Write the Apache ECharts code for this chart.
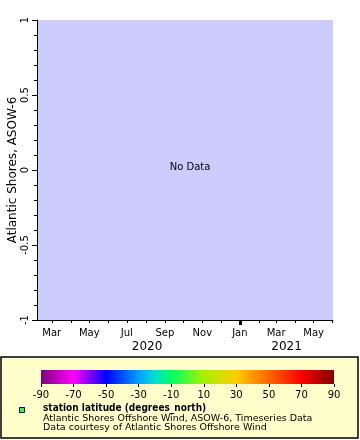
<!DOCTYPE html>
<html>
<head>
<meta charset="utf-8">
<script src="https://cdn.jsdelivr.net/npm/echarts@6/dist/echarts.min.js"></script>
<style>
html,body{margin:0;padding:0;background:#fff;}
#chart{width:360px;height:440px;}
</style>
</head>
<body>
<div id="chart"></div>
<script>
// ---- data ----
const timeMin = '2020-02-06';
const timeMax = '2021-06-01T12:00:00';
const monthTicks = ['2020-03-01','2020-04-01','2020-05-01','2020-06-01','2020-07-01','2020-08-01','2020-09-01','2020-10-01','2020-11-01','2020-12-01','2021-01-01','2021-02-01','2021-03-01','2021-04-01','2021-05-01','2021-06-01'];
const labeledMonths = ['2020-03-01','2020-05-01','2020-07-01','2020-09-01','2020-11-01','2021-01-01','2021-03-01','2021-05-01'];
const monthNames = ['Jan','Feb','Mar','Apr','May','Jun','Jul','Aug','Sep','Oct','Nov','Dec'];
const yearBoundary = ['2021-01-01'];
const yearLabelDates = ['2020-08-03','2021-03-18'];
const yearLabelTexts = ['2020','2021'];
const yTicks = [-1,-0.5,0,0.5,1];
const yTickLabels = ['-1','-0.5','0','0.5','1'];
const colorTicks = [-90,-70,-50,-30,-10,10,30,50,70,90];
const paletteValues = [-90,-70,-50,-30,-20,-10,10,30,50,70,90];
const paletteColors = ['#800080','#ff00ff','#0000ff','#00a0ff','#00e0d0','#00ff60','#a8f000','#ffcc00','#ff6600','#ff0000','#800000'];
const stationSeries = []; // no data
const yTitle = 'Atlantic Shores, ASOW-6';
const legendLines = ['station latitude (degrees_north)','Atlantic Shores Offshore Wind, ASOW-6, Timeseries Data','Data courtesy of Atlantic Shores Offshore Wind'];

const ts = s => new Date(s + (s.length===10 ? 'T00:00:00Z' : 'Z')).getTime();
const FONT = 'DejaVu Sans';

const chart = echarts.init(document.getElementById('chart'), null, {renderer:'canvas'});
const stops = paletteValues.map((v,i)=>({offset:(v-paletteValues[0])/(paletteValues[paletteValues.length-1]-paletteValues[0]), color:paletteColors[i]}));

const baseTime = {
  type:'value', gridIndex:0, min:ts(timeMin), max:ts(timeMax), scale:true,
  splitLine:{show:false}
};

chart.setOption({
  animation:false,
  graphic:[
    {type:'rect', z:-100, shape:{x:1,y:357,width:357,height:81}, style:{fill:'#ffffcc',stroke:'#000',lineWidth:1.5}},
    {type:'rect', z:10, shape:{x:19.5,y:407.5,width:5,height:5}, style:{fill:'#33ff33',stroke:'#000',lineWidth:1}},
    {type:'text', z:10, x:43, y:403.5, style:{text:legendLines[0], font:'bold 10px "DejaVu Sans Condensed"', fill:'#000'}},
    {type:'text', z:10, x:43, y:414, style:{text:legendLines[1], font:'9.5px "DejaVu Sans"', fill:'#000'}},
    {type:'text', z:10, x:43, y:423, style:{text:legendLines[2], font:'9.5px "DejaVu Sans"', fill:'#000'}},
    {type:'text', z:10, x:190, y:167, style:{text:'No Data', font:'10px "DejaVu Sans"', fill:'#000', align:'center', verticalAlign:'middle'}}
  ],
  grid:[
    {left:37, right:27, top:20, bottom:120, show:true, backgroundColor:'#ccccff', borderWidth:0, containLabel:false, outerBoundsMode:'none'},
    {left:41, width:293, top:370, height:14, show:false, containLabel:false, outerBoundsMode:'none'}
  ],
  xAxis:[
    Object.assign({}, baseTime, {
      position:'bottom',
      axisLine:{show:true, onZero:false, lineStyle:{color:'#000', width:1}},
      axisTick:{show:true, length:3, lineStyle:{color:'#000'}, customValues:monthTicks.map(ts)},
      axisLabel:{show:true, margin:8, color:'#000', fontFamily:FONT, fontSize:10, customValues:labeledMonths.map(ts),
        formatter:v=>monthNames[new Date(v).getUTCMonth()]}
    }),
    Object.assign({}, baseTime, {
      position:'bottom',
      axisLine:{show:false, onZero:false},
      axisTick:{show:true, length:5, lineStyle:{color:'#000', width:3}, customValues:yearBoundary.map(ts)},
      axisLabel:{show:true, margin:21, color:'#000', fontFamily:FONT, fontSize:12, customValues:yearLabelDates.map(ts),
        formatter:v=>{const i=yearLabelDates.map(ts).indexOf(v); return i>=0?yearLabelTexts[i]:'';}}
    }),
    {type:'value', gridIndex:1, min:colorTicks[0], max:colorTicks[colorTicks.length-1], position:'bottom',
      axisLine:{show:false}, splitLine:{show:false},
      axisTick:{show:true, length:3, lineStyle:{color:'#000'}, customValues:colorTicks},
      axisLabel:{show:true, margin:6, color:'#000', fontFamily:FONT, fontSize:10, customValues:colorTicks, formatter:v=>String(v)}
    }
  ],
  yAxis:[
    {type:'value', gridIndex:0, min:-1, max:1, interval:0.5,
      name:yTitle, nameLocation:'middle', nameGap:18, nameRotate:90, nameMoveOverlap:false,
      nameTextStyle:{color:'#000', fontFamily:FONT, fontSize:12},
      axisLine:{show:true, onZero:false, lineStyle:{color:'#000'}},
      axisTick:{show:true, length:5, lineStyle:{color:'#000'}},
      minorTick:{show:true, splitNumber:5, length:3, lineStyle:{color:'#000'}},
      splitLine:{show:false}, minorSplitLine:{show:false},
      axisLabel:{show:true, rotate:90, margin:7, color:'#000', fontFamily:FONT, fontSize:10,
        formatter:v=>{const i=yTicks.indexOf(v); return i>=0?yTickLabels[i]:String(v);}}
    },
    {type:'value', gridIndex:1, min:0, max:1, show:false}
  ],
  series:[
    {type:'line', xAxisIndex:0, yAxisIndex:0, data:stationSeries, showSymbol:false},
    {type:'custom', xAxisIndex:2, yAxisIndex:1, data:[[colorTicks[0], colorTicks[colorTicks.length-1]]],
      renderItem:(params, api)=>{
        const p0 = api.coord([api.value(0), 0]);
        const p1 = api.coord([api.value(1), 1]);
        return {type:'rect', shape:{x:p0[0], y:p1[1], width:p1[0]-p0[0], height:p0[1]-p1[1]},
          style:{fill:new echarts.graphic.LinearGradient(0,0,1,0,stops)}};
      }}
  ]
});
</script>
</body>
</html>
